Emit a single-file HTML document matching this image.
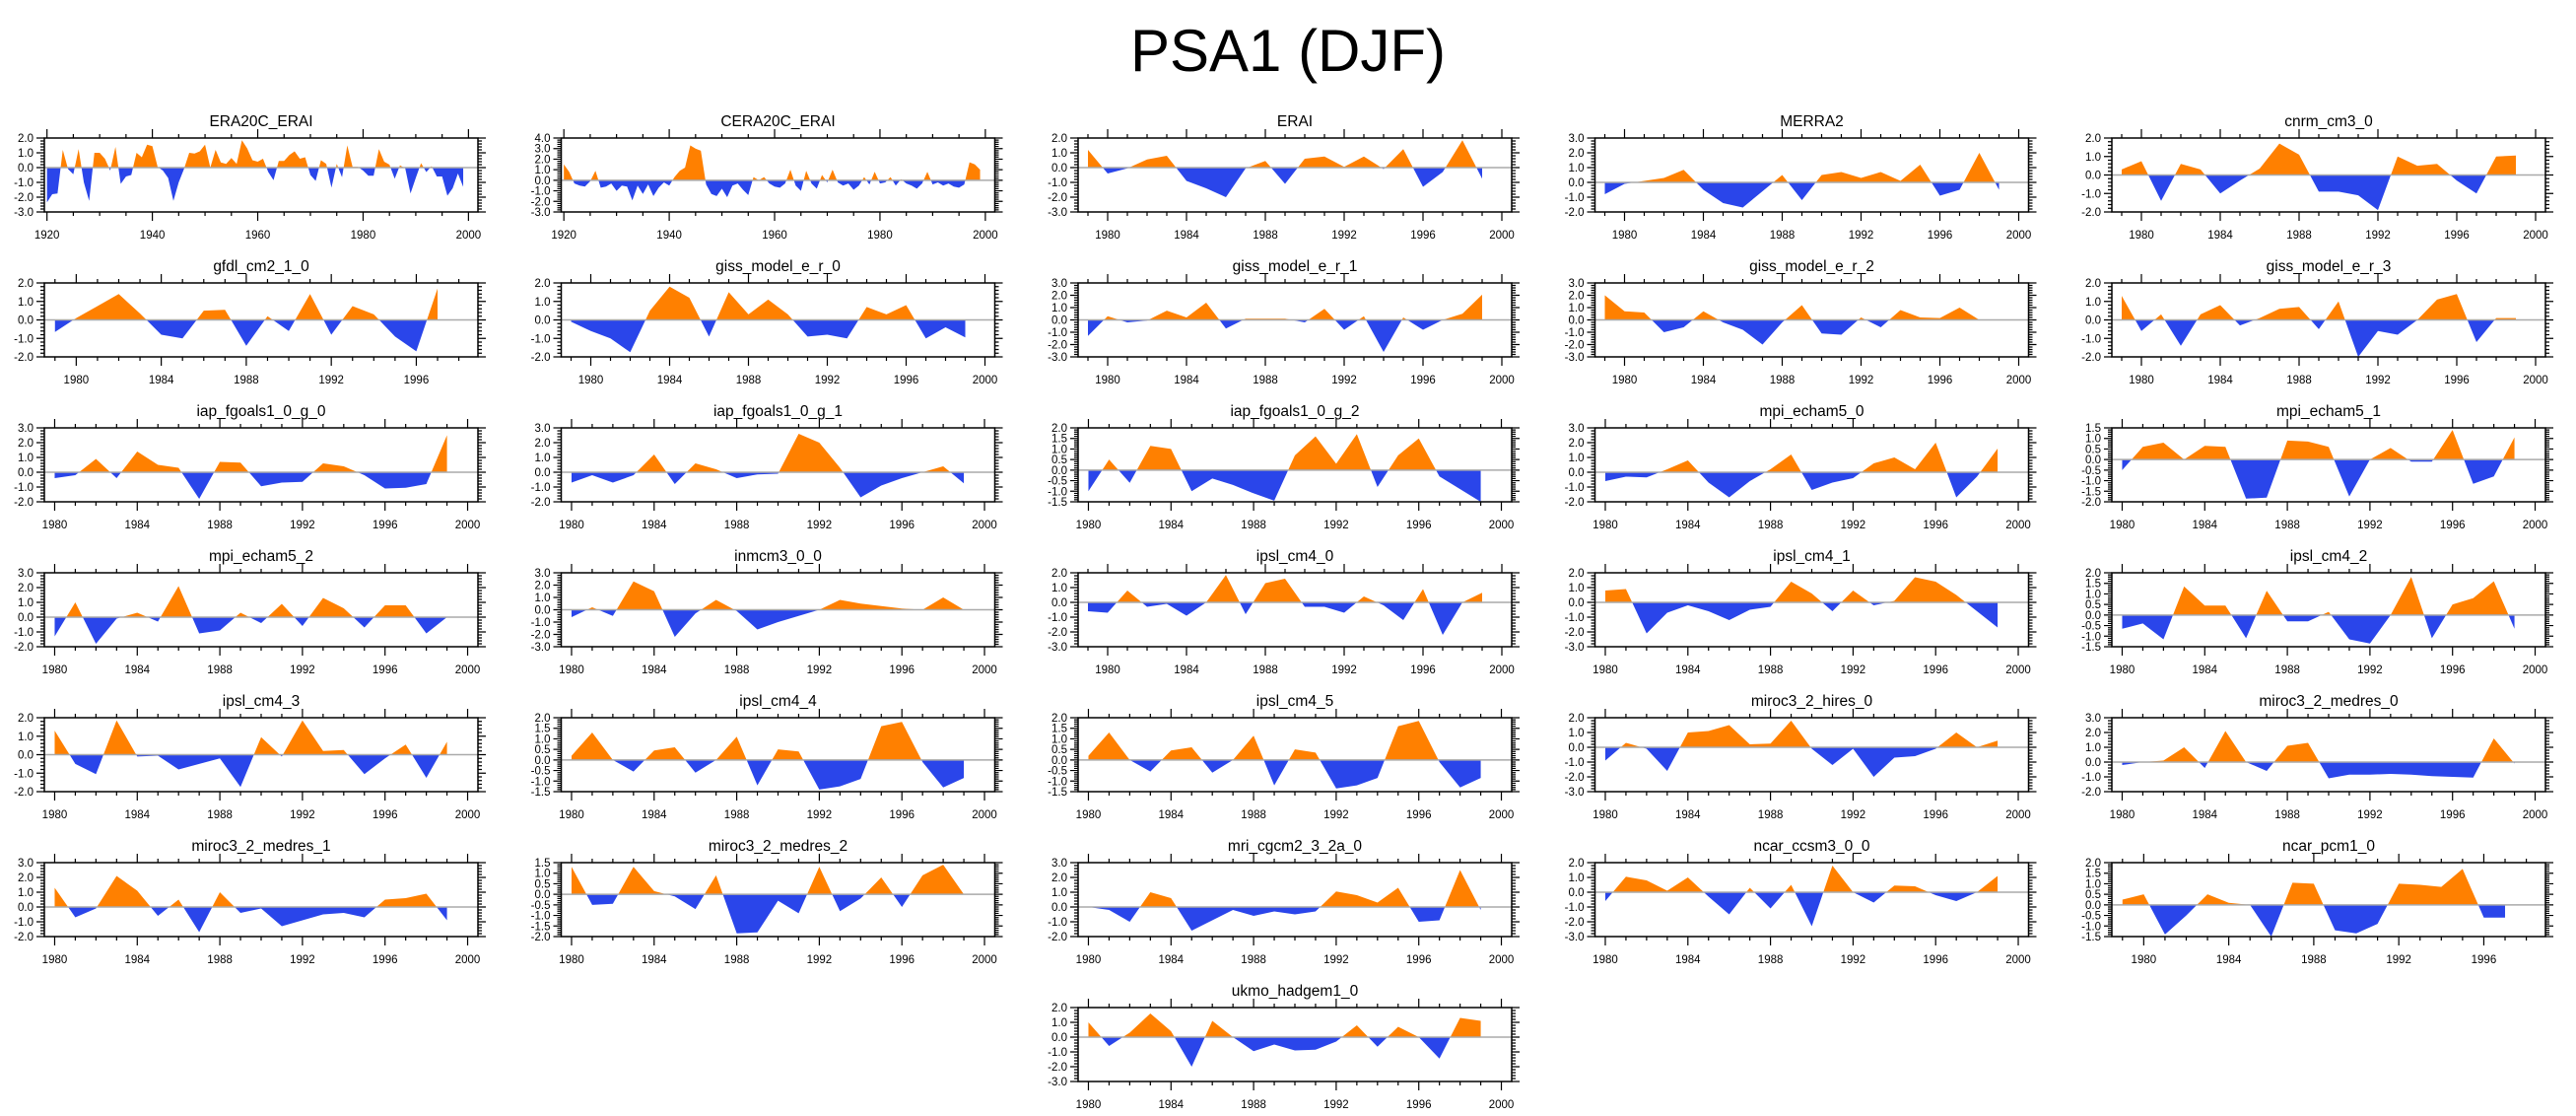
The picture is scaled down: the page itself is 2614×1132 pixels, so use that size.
<!DOCTYPE html>
<html><head><meta charset="utf-8"><title>PSA1 (DJF)</title>
<style>html,body{margin:0;padding:0;background:#fff}svg{display:block;font-family:"Liberation Sans",sans-serif}</style>
</head><body>
<svg id="chart" xmlns="http://www.w3.org/2000/svg" width="2614" height="1132" viewBox="0 0 2614 1132">
<rect width="2614" height="1132" fill="#fff"/>
<text x="1307" y="72" text-anchor="middle" font-size="60" fill="#000">PSA1 (DJF)</text>
</svg>
<script>
// ---- data ----
const era20cErai = [-2.35,-1.8,-1.75,1.2,-0.1,-0.45,1.25,-1.0,-2.25,1.0,
 1.0,0.6,-0.2,1.4,-1.1,-0.6,-0.5,1.0,0.7,1.55,
 1.45,0.05,-0.2,-0.7,-2.25,-1.0,-0.1,1.0,0.95,1.1,
 1.55,0.0,1.2,0.35,0.25,0.65,0.25,1.85,1.3,0.5,
 0.4,0.6,-0.3,-0.85,0.45,0.45,0.85,1.1,0.6,0.7,
 -0.5,-0.9,0.5,0.25,-1.35,0.25,-0.65,1.5,0.05,0.05,
 -0.2,-0.55,-0.55,1.25,0.4,0.2,-0.75,0.15,-0.05,-1.75,
 -0.7,0.3,-0.3,0.1,-0.6,-0.6,-1.9,-1.4,-0.4,-1.3];
const cera20cErai = [1.5,0.8,-0.3,-0.5,-0.6,-0.1,0.9,-0.7,-0.6,-0.3,
 -1.0,-0.5,-0.6,-1.9,-0.5,-1.3,-0.4,-1.5,-0.7,-0.2,
 -0.5,0.3,0.9,1.2,3.3,3.0,2.8,-0.4,-1.3,-1.5,
 -0.8,-1.6,-0.5,-0.3,-0.9,-1.4,0.3,0.0,0.3,-0.3,
 -0.6,-0.7,-0.3,1.0,-0.5,-1.0,0.9,-0.3,-0.8,0.5,
 -0.2,1.0,-0.2,-0.5,-0.3,-0.9,-0.5,0.3,-0.4,0.8,
 -0.3,-0.2,0.3,-0.5,0.1,-0.3,-0.5,-0.8,-0.3,0.8,
 -0.4,-0.2,-0.5,-0.3,-0.6,-0.7,-0.4,1.7,1.5,1.0];
const erai = [1.2,-0.4,-0.05,0.55,0.8,-0.9,-1.4,-2.0,-0.05,0.45,-1.1,0.6,0.75,0.05,0.75,-0.1,1.25,-1.3,-0.3,1.85,-0.75];
const merra2 = [-0.8,-0.1,0.1,0.3,0.85,-0.5,-1.4,-1.7,-0.6,0.5,-1.2,0.5,0.7,0.3,0.7,0.1,1.2,-0.9,-0.5,2.0,-0.5];
const cnrmCm3 = [0.3,0.75,-1.4,0.6,0.3,-1.0,-0.3,0.35,1.7,1.1,-0.9,-0.9,-1.1,-1.9,1.0,0.5,0.6,-0.3,-1.0,1.0,1.05];
const gfdlCm21 = [-0.65,0.1,0.75,1.4,0.35,-0.8,-1.0,0.5,0.55,-1.4,0.2,-0.6,1.4,-0.8,0.75,0.3,-0.9,-1.7,1.7];
const gissR0 = [-0.1,-0.6,-1.0,-1.75,0.5,1.8,1.2,-0.9,1.5,0.3,1.1,0.3,-0.9,-0.8,-1.0,0.7,0.3,0.8,-1.0,-0.4,-0.95];
const gissR1 = [-1.3,0.3,-0.2,-0.05,0.75,0.2,1.4,-0.7,0.1,0.1,0.1,-0.2,0.9,-0.8,0.3,-2.6,0.2,-0.8,0.0,0.5,2.05];
const gissR2 = [2.0,0.7,0.6,-1.0,-0.6,0.7,-0.2,-0.8,-2.0,-0.2,1.2,-1.1,-1.2,0.2,-0.6,0.8,0.2,0.15,1.0,0.0,0.0];
const gissR3 = [1.3,-0.6,0.3,-1.4,0.3,0.8,-0.3,0.1,0.6,0.7,-0.5,1.0,-2.0,-0.6,-0.8,0.0,1.1,1.4,-1.2,0.1,0.1];
const iapG0 = [-0.4,-0.2,0.9,-0.4,1.4,0.5,0.3,-1.8,0.7,0.65,-0.95,-0.7,-0.65,0.6,0.4,-0.2,-1.1,-1.05,-0.8,2.5];
const iapG1 = [-0.7,-0.2,-0.7,-0.2,1.2,-0.8,0.6,0.2,-0.4,-0.15,-0.1,2.6,2.0,0.3,-1.7,-0.9,-0.4,0.0,0.4,-0.75];
const iapG2 = [-1.0,0.5,-0.6,1.15,1.0,-1.0,-0.4,-0.7,-1.1,-1.45,0.7,1.6,0.3,1.7,-0.8,0.7,1.5,-0.3,-0.9,-1.5];
const mpiEcham0 = [-0.6,-0.3,-0.35,0.2,0.8,-0.7,-1.7,-0.6,0.2,1.2,-1.2,-0.7,-0.4,0.6,1.0,0.2,2.0,-1.7,-0.3,1.6];
const mpiEcham1 = [-0.5,0.6,0.8,0.0,0.65,0.6,-1.85,-1.8,0.9,0.85,0.6,-1.75,0.0,0.55,-0.1,-0.1,1.4,-1.15,-0.8,1.05];
const mpiEcham2 = [-1.3,1.0,-1.8,-0.1,0.3,-0.3,2.1,-1.1,-0.9,0.3,-0.4,0.9,-0.6,1.3,0.6,-0.7,0.8,0.8,-1.1,0.0];
const inmcm3 = [-0.6,0.2,-0.5,2.3,1.5,-2.2,-0.3,0.8,-0.1,-1.6,-1.0,-0.5,0.0,0.8,0.5,0.3,0.1,0.0,1.0,0.0];
const ipslCm40 = [-0.6,-0.7,0.8,-0.3,-0.1,-0.9,0.0,1.85,-0.8,1.3,1.6,-0.3,-0.3,-0.7,0.4,-0.2,-1.2,0.9,-2.2,0.0,0.65];
const ipslCm41 = [0.8,0.9,-2.1,-0.7,-0.2,-0.6,-1.2,-0.5,-0.3,1.4,0.6,-0.6,0.8,-0.2,0.1,1.7,1.4,0.5,-0.6,-1.7];
const ipslCm42 = [-0.65,-0.4,-1.15,1.35,0.45,0.45,-1.1,1.15,-0.3,-0.3,0.15,-1.15,-1.35,0.0,1.8,-1.1,0.5,0.8,1.6,-0.65];
const ipslCm43 = [1.3,-0.5,-1.05,1.85,-0.1,-0.05,-0.8,-0.5,-0.2,-1.75,0.95,-0.1,1.85,0.2,0.25,-1.05,-0.2,0.55,-1.25,0.7];
const ipslCm44 = [0.2,1.3,0.0,-0.55,0.45,0.6,-0.6,0.0,1.1,-1.2,0.5,0.4,-1.4,-1.25,-0.9,1.6,1.8,-0.1,-1.3,-0.85];
const ipslCm45 = [0.2,1.3,0.0,-0.55,0.45,0.6,-0.6,0.0,1.15,-1.2,0.5,0.35,-1.35,-1.2,-0.85,1.6,1.85,-0.1,-1.3,-0.85];
const mirocHires0 = [-0.9,0.3,-0.1,-1.6,1.0,1.1,1.5,0.2,0.25,1.8,-0.1,-1.2,-0.1,-2.0,-0.7,-0.6,-0.1,1.0,0.0,0.45];
const mirocMedres0 = [-0.2,0.0,0.1,1.0,-0.4,2.1,0.0,-0.6,1.1,1.3,-1.1,-0.85,-0.85,-0.8,-0.85,-0.95,-1.0,-1.05,1.6,-0.1];
const mirocMedres1 = [1.3,-0.7,-0.1,2.1,1.1,-0.6,0.5,-1.7,1.0,-0.4,-0.1,-1.3,-0.9,-0.5,-0.4,-0.7,0.5,0.6,0.9,-0.9];
const mirocMedres2 = [1.3,-0.5,-0.45,1.3,0.15,-0.1,-0.7,0.9,-1.85,-1.8,-0.3,-0.9,1.3,-0.8,-0.2,0.8,-0.6,0.9,1.4,0.0];
const mriCgcm = [0.0,-0.2,-1.0,1.0,0.6,-1.6,-0.9,-0.2,-0.6,-0.3,-0.5,-0.3,1.05,0.8,0.3,1.3,-1.0,-0.9,2.5,-0.2];
const ncarCcsm3 = [-0.6,1.05,0.8,0.1,1.0,-0.3,-1.5,0.3,-1.1,0.5,-2.3,1.8,0.0,-0.7,0.45,0.4,-0.2,-0.6,0.0,1.1];
const ncarPcm1 = [0.25,0.5,-1.4,-0.5,0.5,0.1,0.0,-1.5,1.05,1.0,-1.2,-1.35,-0.9,1.0,0.95,0.85,1.7,-0.6,-0.6];
const ukmoHadgem1 = [1.0,-0.6,0.3,1.6,0.4,-2.0,1.1,0.0,-0.95,-0.5,-0.9,-0.85,-0.3,0.8,-0.65,0.7,0.0,-1.45,1.3,1.1];

const panelNames = ["ERA20C_ERAI","CERA20C_ERAI","ERAI","MERRA2","cnrm_cm3_0",
 "gfdl_cm2_1_0","giss_model_e_r_0","giss_model_e_r_1","giss_model_e_r_2","giss_model_e_r_3",
 "iap_fgoals1_0_g_0","iap_fgoals1_0_g_1","iap_fgoals1_0_g_2","mpi_echam5_0","mpi_echam5_1",
 "mpi_echam5_2","inmcm3_0_0","ipsl_cm4_0","ipsl_cm4_1","ipsl_cm4_2",
 "ipsl_cm4_3","ipsl_cm4_4","ipsl_cm4_5","miroc3_2_hires_0","miroc3_2_medres_0",
 "miroc3_2_medres_1","miroc3_2_medres_2","mri_cgcm2_3_2a_0","ncar_ccsm3_0_0","ncar_pcm1_0",
 "ukmo_hadgem1_0"];
const panelSeries = [era20cErai,cera20cErai,erai,merra2,cnrmCm3,
 gfdlCm21,gissR0,gissR1,gissR2,gissR3,
 iapG0,iapG1,iapG2,mpiEcham0,mpiEcham1,
 mpiEcham2,inmcm3,ipslCm40,ipslCm41,ipslCm42,
 ipslCm43,ipslCm44,ipslCm45,mirocHires0,mirocMedres0,
 mirocMedres1,mirocMedres2,mriCgcm,ncarCcsm3,ncarPcm1,
 ukmoHadgem1];
const firstYears = [1920,1920,1979,1979,1979, 1979,1979,1979,1979,1979,
 1980,1980,1980,1980,1980, 1980,1980,1979,1980,1980,
 1980,1980,1980,1980,1980, 1980,1980,1980,1980,1979, 1980];
const yMins = [-3,-3,-3,-2,-2, -2,-2,-3,-3,-2, -2,-2,-1.5,-2,-2, -2,-3,-3,-3,-1.5, -2,-1.5,-1.5,-3,-2, -2,-2,-2,-3,-1.5, -3];
const yMaxs = [2,4,2,3,2, 2,2,3,3,2, 3,3,2,3,1.5, 3,3,2,2,2, 2,2,2,2,3, 3,1.5,3,2,2, 2];
const ySteps = [1,1,1,1,1, 1,1,1,1,1, 1,1,0.5,1,0.5, 1,1,1,1,0.5, 1,0.5,0.5,1,1, 1,0.5,1,1,0.5, 1];

// ---- rendering ----
const NS = "http://www.w3.org/2000/svg";
const svg = document.getElementById("chart");
function mk(tag, attrs, parent){ const e=document.createElementNS(NS,tag); for(const k in attrs) e.setAttribute(k,attrs[k]); (parent||svg).appendChild(e); return e; }
function slug(s){ return s.toLowerCase().replace(/_/g,"-"); }

panelNames.forEach((name,i)=>{
  const vals = panelSeries[i];
  const col = i===30 ? 2 : i%5;
  const row = i===30 ? 6 : Math.floor(i/5);
  const x0 = 45 + 524.5*col, y0 = 140 + 147*row, w = 440, h = 75;
  const fy = firstYears[i];
  const ly = fy + vals.length - 1;
  const longRec = vals.length > 40;
  const shortRec = !longRec && ly < 1999;
  const xmin = fy - 0.5;
  const xmax = longRec ? 2001.8 : (shortRec ? 1998.9 : 2000.5);
  const ymin = yMins[i], ymax = yMaxs[i], ystep = ySteps[i];
  const sx = v => x0 + (v - xmin)/(xmax - xmin)*w;
  const sy = v => y0 + (ymax - v)/(ymax - ymin)*h;

  const g = mk("g",{});
  
  

  const t = mk("text",{x:x0+w/2,y:y0-12,"text-anchor":"middle","font-size":"15.5",fill:"#000"},g);
  t.textContent = name;
  
  

  const cid = "c"+i;
  const defs = mk("defs",{},g);
  const cpA = mk("clipPath",{id:cid+"a"},defs);
  mk("rect",{x:x0,y:y0,width:w,height:sy(0)-y0},cpA);
  const cpB = mk("clipPath",{id:cid+"b"},defs);
  mk("rect",{x:x0,y:sy(0),width:w,height:y0+h-sy(0)},cpB);

  let d = "M"+sx(fy).toFixed(2)+","+sy(0).toFixed(2);
  vals.forEach((v,k)=>{ d += " L"+sx(fy+k).toFixed(2)+","+sy(v).toFixed(2); });
  d += " L"+sx(ly).toFixed(2)+","+sy(0).toFixed(2)+" Z";
  const pos = mk("path",{d:d,fill:"#ff8000","clip-path":"url(#"+cid+"a)"},g);
  
  
  const neg = mk("path",{d:d,fill:"#2a45ea","clip-path":"url(#"+cid+"b)"},g);
  
  

  const zl = mk("line",{x1:x0,x2:x0+w,y1:sy(0),y2:sy(0),stroke:"#aaa","stroke-width":"1.5"},g);
  
  

  const box = mk("rect",{x:x0,y:y0,width:w,height:h,fill:"none",stroke:"#000","stroke-width":"1.5"},g);
  
  

  // y ticks
  let tp = "";
  const nY = Math.round((ymax-ymin)/ystep);
  for(let k=0;k<=nY;k++){
    const v = ymin + k*ystep, yy = sy(v);
    tp += `M${x0-8},${yy}H${x0} M${x0+w},${yy}H${x0+w+8} `;
    const lb = mk("text",{x:x0-11,y:yy+4,"text-anchor":"end","font-size":"11.5",fill:"#000"},g);
    lb.textContent = v.toFixed(1);
    
    
    if(k<nY){ for(let m=1;m<5;m++){ const ym = sy(v + ystep*m/5); tp += `M${x0-4},${ym}H${x0} M${x0+w},${ym}H${x0+w+4} `; } }
  }
  // x ticks
  const major = longRec ? 20 : 4, minor = longRec ? 5 : 1;
  const startYr = longRec ? 1920 : 1980;
  for(let yr=Math.ceil(xmin); yr<=xmax; yr++){
    const xx = sx(yr);
    if((yr-startYr)%major===0){
      tp += `M${xx},${y0-9}V${y0} M${xx},${y0+h}V${y0+h+9} `;
      const lb = mk("text",{x:xx,y:y0+h+27,"text-anchor":"middle","font-size":"11.5",fill:"#000"},g);
      lb.textContent = yr;
      
      
    } else if((yr-startYr)%minor===0){
      tp += `M${xx},${y0-4}V${y0} M${xx},${y0+h}V${y0+h+4} `;
    }
  }
  const ticks = mk("path",{d:tp,stroke:"#000","stroke-width":"1.2",fill:"none"},g);
  
  
});
</script>
</body></html>
